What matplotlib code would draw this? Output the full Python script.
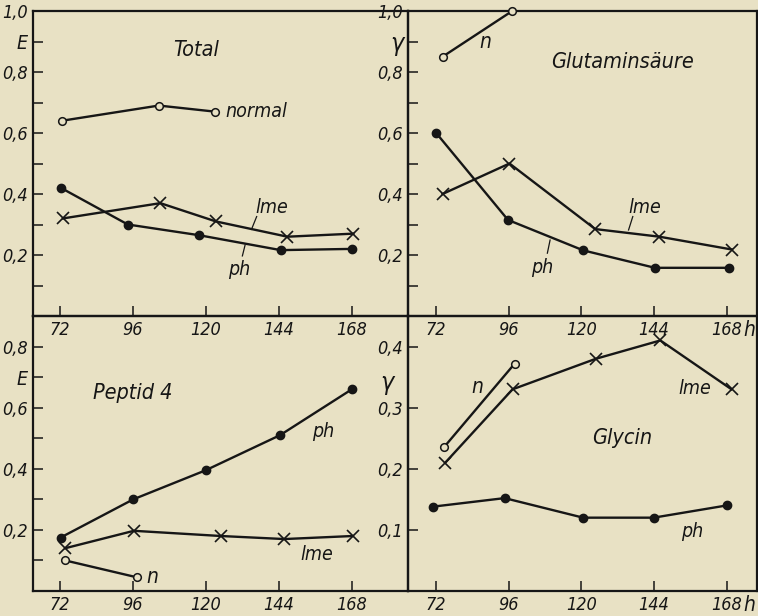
import matplotlib
matplotlib.use('Agg')
import matplotlib.pyplot as plt

# hours
hours = [72, 96, 120, 144, 168]

# Total (E)
tot_normal_x = [72.5, 104.5, 123]
tot_normal_y = [0.64, 0.69, 0.67]
tot_lme_x = [73, 105, 123.3, 146.8, 168.5]
tot_lme_y = [0.32, 0.37, 0.31, 0.26, 0.27]
tot_ph_x = [72.3, 94.3, 117.7, 144.6, 168]
tot_ph_y = [0.42, 0.30, 0.265, 0.216, 0.22]

# Glutaminsaeure (gamma)
glu_n_x = [74.2, 97.2]
glu_n_y = [0.85, 1.0]
glu_lme_x = [74.2, 96.3, 124.6, 145.8, 169.7]
glu_lme_y = [0.40, 0.50, 0.285, 0.26, 0.218]
glu_ph_x = [72.1, 95.8, 120.7, 144.3, 168.6]
glu_ph_y = [0.60, 0.315, 0.215, 0.158, 0.158]

# Peptid 4 (E)
pep_ph_x = [72.2, 96.1, 119.9, 144.4, 168]
pep_ph_y = [0.175, 0.30, 0.395, 0.51, 0.66]
pep_lme_x = [73.7, 96.3, 124.9, 145.8, 168.3]
pep_lme_y = [0.14, 0.197, 0.18, 0.17, 0.18]
pep_n_x = [73.7, 97.2]
pep_n_y = [0.10, 0.045]

# Glycin (gamma)
gly_n_x = [74.8, 98]
gly_n_y = [0.236, 0.372]
gly_lme_x = [75.1, 97.3, 124.8, 146.1, 169.6]
gly_lme_y = [0.21, 0.33, 0.38, 0.41, 0.33]
gly_ph_x = [71, 94.7, 120.6, 143.9, 168]
gly_ph_y = [0.138, 0.152, 0.12, 0.12, 0.14]

bg = '#e8e1c4'
ink = '#161616'
plt.rcParams['font.family'] = ['DejaVu Sans']
plt.rcParams['font.style'] = 'italic'
plt.rcParams['font.stretch'] = 'condensed'

fig = plt.figure(figsize=(7.58, 6.16), dpi=100, facecolor=bg)

W, H = 758.0, 616.0
def box(x0, y0, x1, y1):
    return [x0 / W, 1 - y1 / H, (x1 - x0) / W, (y1 - y0) / H]

ax_tl = fig.add_axes(box(33, 11, 408, 316))
ax_tr = fig.add_axes(box(408, 11, 757, 316))
ax_bl = fig.add_axes(box(33, 316, 408, 591))
ax_br = fig.add_axes(box(408, 316, 757, 591))

for ax in [ax_tl, ax_tr, ax_bl, ax_br]:
    ax.set_facecolor(bg)
    for s in ax.spines.values():
        s.set_linewidth(1.6)
        s.set_color(ink)
    ax.tick_params(direction='in', length=7, width=1.1, colors=ink,
                   labelsize=13, pad=3.5)
    ax.set_xticks(hours)
    ax.patch.set_alpha(0)

ax_tl.set_xlim(63.1, 186.5)
ax_bl.set_xlim(63.1, 186.5)
ax_tr.set_xlim(62.8, 178)
ax_br.set_xlim(62.8, 178)

ax_tl.set_ylim(0, 1.0)
ax_tr.set_ylim(0, 1.0)
ax_bl.set_ylim(0, 0.9)
ax_br.set_ylim(0, 0.45)

for ax in [ax_tl, ax_bl, ax_tr, ax_br]:
    ax.set_xticklabels(['72', '96', '120', '144', '168'])
for ax in [ax_tr, ax_br]:
    ax.annotate('h', xy=(168, 0), xycoords='data', xytext=(12, -3),
                textcoords='offset points', ha='left', va='top',
                fontsize=15, color=ink)

ytop = [0.1, 0.2, 0.3, 0.4, 0.5, 0.6, 0.7, 0.8, 0.9, 1.0]
ax_tl.set_yticks(ytop)
ax_tl.set_yticklabels(['', '0,2', '', '0,4', '', '0,6', '', '0,8', 'E', '1,0'])
ax_tr.set_yticks(ytop)
ax_tr.set_yticklabels(['', '0,2', '', '0,4', '', '0,6', '', '0,8', 'γ', '1,0'])
ybl = [0.1, 0.2, 0.3, 0.4, 0.5, 0.6, 0.7, 0.8]
ax_bl.set_yticks(ybl)
ax_bl.set_yticklabels(['', '0,2', '', '0,4', '', '0,6', 'E', '0,8'])
ax_br.set_yticks([0.1, 0.2, 0.3, 0.4])
ax_br.set_yticklabels(['0,1', '0,2', '0,3', '0,4'])
ax_br.text(-0.04, 0.34 / 0.45, 'γ', transform=ax_br.transAxes,
           ha='right', va='center', fontsize=18, color=ink)
for lab in ax_tr.get_yticklabels():
    if lab.get_text() == 'γ':
        lab.set_fontsize(18)
for ax in [ax_tl, ax_bl]:
    for lab in ax.get_yticklabels():
        if lab.get_text() == 'E':
            lab.set_fontsize(14)

lw = 1.7
def open_line(ax, x, y):
    ax.plot(x, y, '-', color=ink, lw=lw, marker='o', ms=5.5,
            mfc=bg, mec=ink, mew=1.1, clip_on=False, zorder=3)

def x_line(ax, x, y):
    ax.plot(x, y, '-', color=ink, lw=lw, marker='x', ms=8,
            mew=1.2, mec=ink, clip_on=False, zorder=3)

def dot_line(ax, x, y):
    ax.plot(x, y, '-', color=ink, lw=lw, marker='o', ms=6,
            mfc=ink, mec=ink, clip_on=False, zorder=3)

tfs = 15.5
lfs = 14

# Total
open_line(ax_tl, tot_normal_x, tot_normal_y)
x_line(ax_tl, tot_lme_x, tot_lme_y)
dot_line(ax_tl, tot_ph_x, tot_ph_y)
ax_tl.text(0.435, 0.872, 'Total', transform=ax_tl.transAxes, fontsize=tfs,
           ha='center', va='center', color=ink)
ax_tl.text(126.5, 0.67, 'normal', fontsize=lfs, va='center', color=ink)
ax_tl.text(136.2, 0.357, 'lme', fontsize=lfs, va='center', color=ink)
ax_tl.plot([136.7, 135.0], [0.326, 0.284], color=ink, lw=0.9)
ax_tl.text(127.3, 0.151, 'ph', fontsize=lfs, va='center', color=ink)
ax_tl.plot([132.9, 132.0], [0.233, 0.197], color=ink, lw=0.9)

# Glutaminsaeure
open_line(ax_tr, glu_n_x, glu_n_y)
x_line(ax_tr, glu_lme_x, glu_lme_y)
dot_line(ax_tr, glu_ph_x, glu_ph_y)
ax_tr.text(0.615, 0.833, 'Glutaminsäure', transform=ax_tr.transAxes,
           fontsize=tfs, ha='center', va='center', color=ink)
ax_tr.text(86.5, 0.9, 'n', fontsize=15, va='center', color=ink)
ax_tr.text(135.5, 0.357, 'lme', fontsize=lfs, va='center', color=ink)
ax_tr.plot([137.0, 135.6], [0.326, 0.282], color=ink, lw=0.9)
ax_tr.text(103.5, 0.16, 'ph', fontsize=lfs, va='center', color=ink)
ax_tr.plot([109.7, 108.8], [0.249, 0.206], color=ink, lw=0.9)

# Peptid 4
dot_line(ax_bl, pep_ph_x, pep_ph_y)
x_line(ax_bl, pep_lme_x, pep_lme_y)
open_line(ax_bl, pep_n_x, pep_n_y)
ax_bl.text(0.16, 0.72, 'Peptid 4', transform=ax_bl.transAxes, fontsize=tfs,
           ha='left', va='center', color=ink)
ax_bl.text(155, 0.522, 'ph', fontsize=lfs, va='center', color=ink)
ax_bl.text(151, 0.118, 'lme', fontsize=lfs, va='center', color=ink)
ax_bl.text(100.5, 0.046, 'n', fontsize=15, va='center', color=ink)

# Glycin
open_line(ax_br, gly_n_x, gly_n_y)
x_line(ax_br, gly_lme_x, gly_lme_y)
dot_line(ax_br, gly_ph_x, gly_ph_y)
ax_br.text(0.613, 0.555, 'Glycin', transform=ax_br.transAxes, fontsize=tfs,
           ha='center', va='center', color=ink)
ax_br.text(83.7, 0.334, 'n', fontsize=15, va='center', color=ink)
ax_br.text(152.2, 0.331, 'lme', fontsize=lfs, va='center', color=ink)
ax_br.text(153, 0.098, 'ph', fontsize=lfs, va='center', color=ink)

fig.savefig('out.png', dpi=100, facecolor=bg)
